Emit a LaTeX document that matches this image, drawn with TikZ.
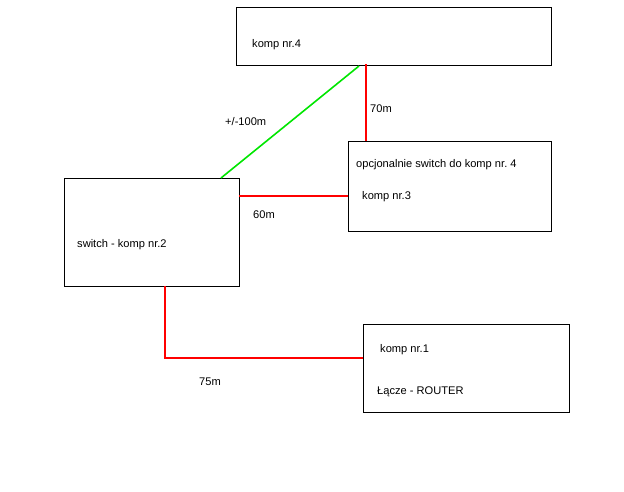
\documentclass[tikz,border=0pt]{standalone}
\usepackage{fontspec}
\setmainfont{Liberation Sans}
\usepackage{tikz}
\definecolor{kabel}{RGB}{255,0,0}
\definecolor{radio}{RGB}{0,230,0}

\begin{document}
\begin{tikzpicture}[x=1pt, y=-1pt, font=\fontsize{11.1}{13}\selectfont,
    box/.style={draw, line width=1.1pt, anchor=north west, inner sep=0pt},
    txt/.style={anchor=west, inner sep=0pt},
    cable/.style={draw=kabel, line width=2pt},
    wifi/.style={draw=radio, line width=1.6pt}]
  \useasboundingbox (0,0) rectangle (624,491);
  % komputery
  \node[box, minimum width=315pt, minimum height=58pt] (k4) at (236, 7) {};
  \node[box, minimum width=203pt, minimum height=90pt] (k3) at (348, 141) {};
  \node[box, minimum width=175pt, minimum height=108pt] (sw) at (64, 178) {};
  \node[box, minimum width=206pt, minimum height=88pt] (k1) at (363, 324) {};
  \node[txt] (t4) at (252, 45) {komp nr.4};
  \node[txt] (t3a) at (356, 165) {opcjonalnie switch do komp nr.\ 4};
  \node[txt] (t3b) at (362, 197) {komp nr.3};
  \node[txt] (t2) at (77, 245) {switch - komp nr.2};
  \node[txt] (t1a) at (380, 350) {komp nr.1};
  \node[txt] (t1b) at (377, 392) {Łącze - ROUTER};
  % punkty zaczepienia
  \coordinate (g2) at (221, 178);
  \coordinate (g4) at (359, 66);
  \coordinate (r4) at (366, 64);
  \coordinate (r2) at (239, 196);
  \coordinate (r2b) at (165, 286);
  \coordinate (r1) at (363, 358);
  % polaczenia
  \draw[wifi] (g2) -- (g4);
  \draw[cable] (r4) -- (r4 |- k3.north);
  \draw[cable] (r2) -- (r2 -| k3.west);
  \draw[cable] (r2b) -- (r2b |- r1) -- (r1);
  \node[txt] (d100) at (225, 122) {+/-100m};
  \node[txt] (d70) at (370, 109) {70m};
  \node[txt] (d60) at (253, 215) {60m};
  \node[txt] (d75) at (199, 382) {75m};
\end{tikzpicture}
\end{document}
